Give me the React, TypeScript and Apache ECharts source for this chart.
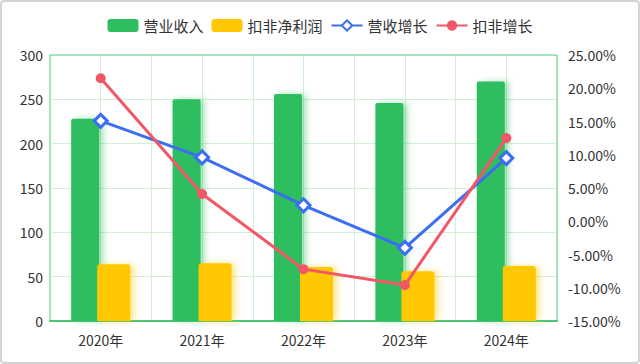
import React, { useEffect, useRef } from "react";
import * as echarts from "echarts";

const categories = ["2020年", "2021年", "2022年", "2023年", "2024年"];
const revenue = [228, 250, 256, 246, 270];
const netProfit = [64, 65, 61, 56, 62];
const revenueGrowth = [15.1, 9.6, 2.4, -4.0, 9.5];
const profitGrowth = [21.5, 4.1, -7.2, -9.6, 12.5];
const halfSlots = ["", "", "", "", "", "", "", "", "", ""];

export default function App() {
  const ref = useRef<HTMLDivElement>(null);
  useEffect(() => {
    if (!ref.current) return;
    const chart = echarts.init(ref.current, undefined, { renderer: "svg" });
    const font = "'Noto Sans CJK SC', 'Microsoft YaHei', sans-serif";
    chart.setOption({
      animation: false,
      textStyle: { fontFamily: font },
      legend: {
        top: 13,
        left: "center",
        itemWidth: 31,
        itemHeight: 13,
        itemGap: 8,
        textStyle: { fontSize: 15, color: "#333", fontFamily: font },
        data: ["营业收入", "扣非净利润", "营收增长", "扣非增长"],
      },
      grid: {
        left: 50,
        right: 83,
        top: 55,
        bottom: 43,
        show: true,
        borderColor: "#4cc574",
        borderWidth: 1,
      },
      xAxis: [
        {
          type: "category",
          data: categories,
          boundaryGap: true,
          axisLine: { show: true, lineStyle: { color: "#4cc574", width: 2 } },
          axisTick: { show: false },
          axisLabel: { fontSize: 14, color: "#333", margin: 12, fontFamily: font },
          splitLine: { show: false },
        },
        {
          type: "category",
          data: halfSlots,
          boundaryGap: true,
          position: "bottom",
          axisLine: { show: false },
          axisTick: { show: false },
          axisLabel: { show: false },
          splitLine: {
            show: true,
            showMinLine: false,
            showMaxLine: false,
            lineStyle: { color: "#cdf0d7", width: 1 },
          },
        },
      ],
      yAxis: [
        {
          type: "value",
          min: 0,
          max: 300,
          interval: 50,
          axisLine: { show: false },
          axisTick: { show: false },
          axisLabel: { fontSize: 14, color: "#333", margin: 7, fontFamily: font },
          splitLine: {
            show: true,
            showMinLine: false,
            showMaxLine: false,
            lineStyle: { color: "#cdf0d7", width: 1 },
          },
        },
        {
          type: "value",
          min: -15,
          max: 25,
          interval: 5,
          axisLine: { show: false },
          axisTick: { show: false },
          axisLabel: {
            fontSize: 14,
            color: "#333",
            margin: 11,
            fontFamily: font,
            formatter: (v: number) => v.toFixed(2) + "%",
          },
          splitLine: { show: false },
        },
      ],
      series: [
        {
          name: "营业收入",
          type: "bar",
          data: revenue,
          barWidth: 28,
          barGap: "-7%",
          itemStyle: {
            color: "#2ebd5f",
            borderRadius: [2, 2, 0, 0],
            shadowColor: "rgba(46,189,95,0.45)",
            shadowBlur: 6,
            shadowOffsetX: 4,
          },
        },
        {
          name: "扣非净利润",
          type: "bar",
          data: netProfit,
          barWidth: 33,
          itemStyle: {
            color: "#ffc800",
            borderRadius: [3, 3, 0, 0],
            shadowColor: "rgba(255,200,0,0.45)",
            shadowBlur: 6,
            shadowOffsetX: 4,
          },
        },
        {
          name: "营收增长",
          type: "line",
          yAxisIndex: 1,
          data: revenueGrowth,
          symbol: "diamond",
          symbolSize: 13,
          lineStyle: { color: "#3b6ef2", width: 3 },
          itemStyle: { color: "#fff", borderColor: "#3b6ef2", borderWidth: 3 },
          z: 5,
        },
        {
          name: "扣非增长",
          type: "line",
          yAxisIndex: 1,
          data: profitGrowth,
          symbol: "circle",
          symbolSize: 10,
          lineStyle: { color: "#f25667", width: 3 },
          itemStyle: { color: "#f25667" },
          z: 5,
        },
      ],
    });
    return () => chart.dispose();
  }, []);
  return (
    <div
      style={{
        position: "absolute",
        left: 0,
        top: 0,
        width: 640,
        height: 364,
        boxSizing: "border-box",
        border: "2px solid #d4d4d4",
        borderRadius: 4,
        background: "#fff",
        overflow: "hidden",
      }}
    >
      <div ref={ref} style={{ position: "absolute", left: -2, top: -2, width: 640, height: 364 }} />
    </div>
  );
}
